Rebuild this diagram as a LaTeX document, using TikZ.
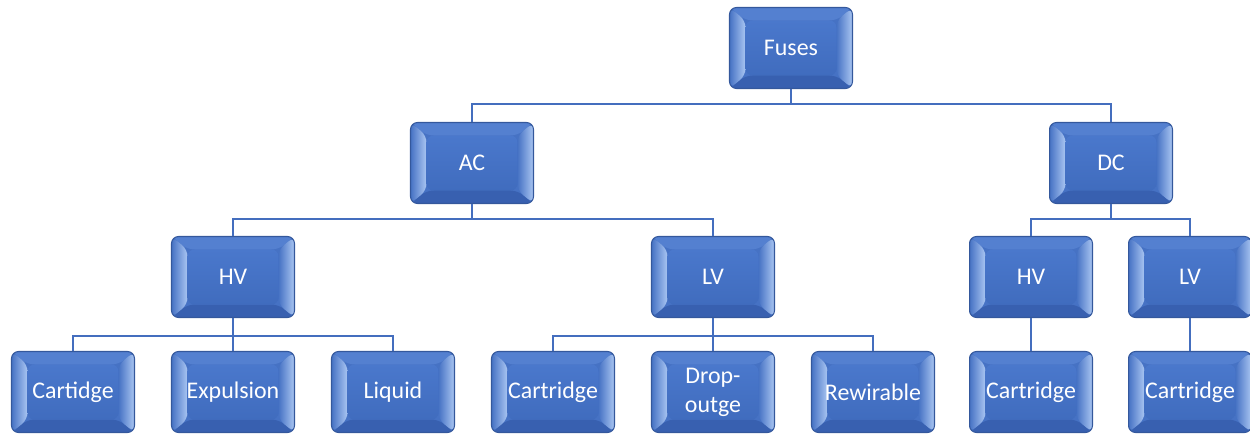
\documentclass[tikz,border=0pt]{standalone}
\usepackage{fontspec}
\setmainfont{Carlito}
\usetikzlibrary{calc}

\definecolor{boxbase}{RGB}{70,114,196}
\definecolor{boxedge}{RGB}{52,88,156}
\definecolor{bevtop}{RGB}{84,128,208}
\definecolor{bevbot}{RGB}{56,96,176}
\definecolor{bevlight}{RGB}{170,198,242}
\definecolor{facetop}{RGB}{74,120,204}
\definecolor{facebot}{RGB}{64,108,190}
\definecolor{wire}{RGB}{68,110,190}

\tikzset{
  bevelbox/.style={
    draw=boxedge, line width=0.6pt, fill=boxbase,
    rounded corners=0.14cm,
    minimum width=2.46cm, minimum height=1.62cm,
    inner sep=0pt, align=center, text=white,
    font=\fontsize{13.6}{16.5}\selectfont,
    path picture={
      \coordinate (bnw) at (path picture bounding box.north west);
      \coordinate (bne) at (path picture bounding box.north east);
      \coordinate (bsw) at (path picture bounding box.south west);
      \coordinate (bse) at (path picture bounding box.south east);
      \coordinate (inw) at ([shift={(0.32cm,-0.26cm)}]bnw);
      \coordinate (ine) at ([shift={(-0.32cm,-0.26cm)}]bne);
      \coordinate (isw) at ([shift={(0.32cm,0.26cm)}]bsw);
      \coordinate (ise) at ([shift={(-0.32cm,0.26cm)}]bse);
      % top and bottom bevels
      \fill[bevtop] (bnw) -- (bne) -- (ine) -- (inw) -- cycle;
      \fill[bevbot] (bsw) -- (bse) -- (ise) -- (isw) -- cycle;
      % side bevels, lit from the sides
      \shade[left color=boxbase, right color=bevlight]
        (bnw) -- (inw) -- (isw) -- (bsw) -- cycle;
      \shade[left color=boxbase, right color=bevlight]
        (bne) -- (ine) -- (ise) -- (bse) -- cycle;
      % front face
      \shade[top color=facetop, bottom color=facebot] (inw) rectangle (ise);
    }
  },
  wirelink/.style={draw=wire, line width=1.6pt}
}

\begin{document}
\begin{tikzpicture}[x=0.02cm, y=-0.02cm]
  \useasboundingbox (0,0) rectangle (1250,433);
  \clip (0,0) rectangle (1250,433);

  % first level
  \node[bevelbox] (fuses) at (791,48) {Fuses};
  % second level
  \node[bevelbox] (ac) at (472,163) {AC};
  \node[bevelbox] (dc) at (1111,163) {DC};
  % third level
  \node[bevelbox] (achv) at (233,277) {HV};
  \node[bevelbox] (aclv) at (713,277) {LV};
  \node[bevelbox] (dchv) at (1031,277) {HV};
  \node[bevelbox] (dclv) at (1190,277) {LV};
  % leaves
  \node[bevelbox] (hvcart) at (73,392) {Cartidge};
  \node[bevelbox] (hvexp)  at (233,392) {Expulsion};
  \node[bevelbox] (hvliq)  at (393,392) {Liquid};
  \node[bevelbox] (lvcart) at (553,392) {Cartridge};
  \node[bevelbox] (lvdrop) at (713,392) {Drop-\\outge};
  \node[bevelbox] (lvrew)  at (873,392) {Rewirable};
  \node[bevelbox] (dchvc)  at (1031,392) {Cartridge};
  \node[bevelbox] (dclvc)  at (1190,392) {Cartridge};

  % connectors
  \begin{scope}[wirelink]
    \draw (fuses.south) -- ++(0,15) -| (ac.north);
    \draw (fuses.south) -- ++(0,15) -| (dc.north);
    \draw (ac.south) -- ++(0,15) -| (achv.north);
    \draw (ac.south) -- ++(0,15) -| (aclv.north);
    \draw (dc.south) -- ++(0,15) -| (dchv.north);
    \draw (dc.south) -- ++(0,15) -| (dclv.north);
    \draw (achv.south) -- ++(0,18) -| (hvcart.north);
    \draw (achv.south) -- (hvexp.north);
    \draw (achv.south) -- ++(0,18) -| (hvliq.north);
    \draw (aclv.south) -- ++(0,18) -| (lvcart.north);
    \draw (aclv.south) -- (lvdrop.north);
    \draw (aclv.south) -- ++(0,18) -| (lvrew.north);
    \draw (dchv.south) -- (dchvc.north);
    \draw (dclv.south) -- (dclvc.north);
  \end{scope}
\end{tikzpicture}
\end{document}
